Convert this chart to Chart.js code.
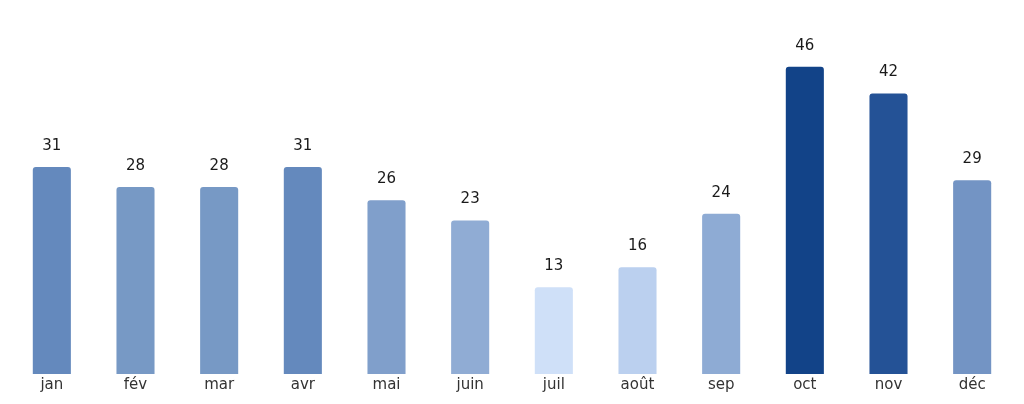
<!DOCTYPE html>
<html>
<head>
<meta charset="utf-8">
<script src="https://cdn.jsdelivr.net/npm/chart.js@4"></script>
<style>
  html, body { margin:0; padding:0; background:#fff; }
  #wrap { width:1024px; height:404px; }
</style>
</head>
<body>
<div id="wrap"><canvas id="c" width="1024" height="404"></canvas></div>
<script>
// months and values
const months = ["jan","fév","mar","avr","mai","juin","juil","août","sep","oct","nov","déc"];
const values = [31, 28, 28, 31, 26, 23, 13, 16, 24, 46, 42, 29];
const colors = ["#6489bd","#7799c5","#7799c5","#6489bd","#809fcb","#90acd4",
                "#cfe0f8","#bbd0ef","#8eabd4","#124388","#245296","#7394c4"];

// value labels above bars
const valueLabels = {
  id: "valueLabels",
  afterDatasetsDraw(chart) {
    const ctx = chart.ctx;
    const meta = chart.getDatasetMeta(0);
    ctx.save();
    ctx.font = "15px 'DejaVu Sans'";
    ctx.fillStyle = "#1a1a1a";
    ctx.textAlign = "center";
    ctx.textBaseline = "middle";
    meta.data.forEach((bar, i) => {
      ctx.fillText(values[i], bar.x, bar.y - 21);
    });
    ctx.restore();
  }
};

Chart.defaults.font.family = "'DejaVu Sans'";

new Chart(document.getElementById("c"), {
  type: "bar",
  data: {
    labels: months,
    datasets: [{
      data: values,
      backgroundColor: colors,
      borderRadius: { topLeft: 3, topRight: 3 },
      borderSkipped: "bottom",
      categoryPercentage: 1,
      barPercentage: 0.455
    }]
  },
  options: {
    responsive: false,
    animation: false,
    layout: { padding: { left: 10, right: 10, top: 0, bottom: 8 } },
    plugins: { legend: { display: false }, tooltip: { enabled: false } },
    scales: {
      x: {
        grid: { display: false, drawTicks: false },
        border: { display: false },
        ticks: { color: "#333", font: { size: 15 }, padding: 2 }
      },
      y: {
        display: false,
        min: 0,
        max: 56
      }
    }
  },
  plugins: [valueLabels]
});
</script>
</body>
</html>
